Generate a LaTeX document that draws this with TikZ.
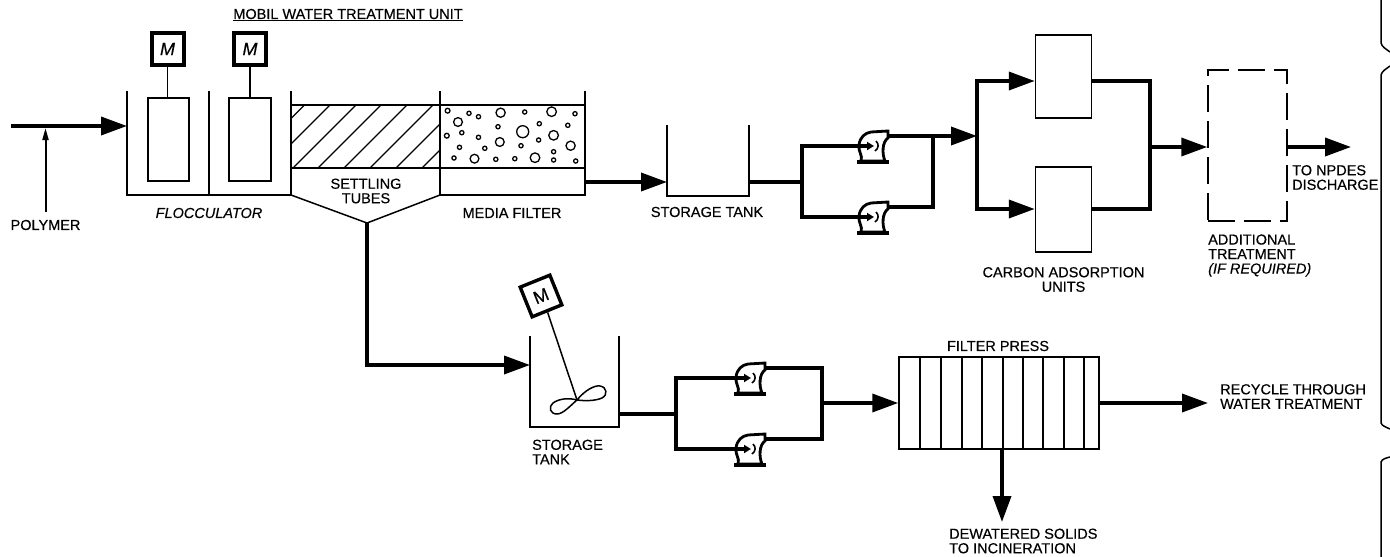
\documentclass[tikz,border=0pt]{standalone}
\usepackage{fontspec}
\setmainfont[FakeBold=0.4]{Liberation Sans}
\usetikzlibrary{arrows.meta,calc}
\tikzset{
  thinline/.style={line width=1.5pt},
  flowline/.style={line width=3.6pt},
  flowarrow/.style={flowline,-{Triangle[length=26pt,width=18pt]}},
  pumptip/.style={flowline,-{Triangle[length=7pt,width=8pt]}},
  tag/.style={inner sep=0pt,font=\fontsize{14.5}{14.5}\selectfont,align=center},
  tagleft/.style={tag,align=left,anchor=west},
  unitbox/.style={draw,thinline,inner sep=0pt,minimum width=#1},
  motorbox/.style={draw,line width=4pt,fill=white,inner sep=0pt,minimum size=32pt,font=\fontsize{18}{18}\selectfont},
  pics/pump/.style={code={
    \draw[line width=2.8pt,fill=white] (-12,15) .. controls (-10,9) and (-15,6) .. (-14,-1)
      .. controls (-13,-9) and (-8,-13) .. (-2,-14) -- (15,-15) -- (15,-8)
      .. controls (9,-4) and (9,8) .. (12,15) -- cycle;
    \draw[line width=3.4pt] (-16,16) -- (16,16);
    \draw[line width=1.6pt] (3,-5) .. controls (6,-2) and (6,2) .. (2,5);
    \coordinate (-in) at (1,0);
    \coordinate (-out) at (15,-10);
  }}
}
\begin{document}
\begin{tikzpicture}[x=1pt,y=-1pt]
  \useasboundingbox (0,0) rectangle (1390,557);
  \node[tag] (title) at (348,15) {\underline{MOBIL WATER TREATMENT UNIT}};

  % flocculator
  \draw[thinline] (127,91) -- (127,195) -- (291,195) -- (291,91);
  \draw[thinline] (209,91) -- (209,195);
  \node[unitbox=41pt,minimum height=83pt] (paddlea) at (168.5,139.5) {};
  \node[unitbox=42pt,minimum height=83pt] (paddleb) at (250,139.5) {};
  \node[motorbox] (motora) at (167.5,49) {\itshape M};
  \node[motorbox] (motorb) at (250,49) {\itshape M};
  \draw[thinline] (motora) -- (motora |- paddlea.north);
  \draw[thinline] (motorb) -- (motorb |- paddleb.north);
  \node[tag] (floclabel) at (209,213) {\itshape FLOCCULATOR};

  % settling tubes
  \begin{scope}
    \clip (291,105) rectangle (440,167);
    \foreach \x in {304.5,330,356,381,407,433,459,485}
      \draw[line width=1.2pt] (\x,105) -- ++(-64,64);
  \end{scope}
  \draw[thinline] (291,105) -- (585,105);
  \draw[line width=2pt] (291,168) -- (585,168);
  \draw[thinline] (440,91) -- (440,195);
  \draw[thinline] (291,195) -- (367,223) -- (440,195);
  \coordinate (conetip) at (367,223);
  \node[tag] (tubelabel) at (366,191) {SETTLING\\TUBES};

  % media filter
  \draw[thinline] (440,195) -- (585,195) -- (585,91);
  \foreach \x/\y/\r in {447.6/110.7/2.4,469/113.3/2.1,478.5/116.7/2.1,500.6/112.7/4.6,524.7/112/2.1,551.6/111.7/4.8,575/113.7/2.1,
    458/122/4.4,498/126.7/2.1,522.7/131.7/6,539.3/123.7/2.1,567.8/125.3/2.1,446.8/135.7/2.4,461.8/132.7/2.1,478.5/137.3/2.1,
    553.6/135.3/4.8,499.8/142/4.4,521/145.7/2.1,538.6/140/2.1,570.6/145.7/4.6,459.5/147.3/2.1,484.8/148.3/2.1,454/158/2.1,
    474.5/158.7/4.4,495.8/159.3/2.1,514.8/158.7/2.1,535/157.7/4.8,553.6/151.7/2.1,553.6/160/2.1,575.7/161/2.1}
    \draw[line width=1.3pt] (\x,\y) circle (\r);
  \node[tag] (medialabel) at (512,213) {MEDIA FILTER};

  % storage tank
  \draw[thinline] (667,125) -- (667,196) -- (749,196) -- (749,125);
  \node[tag] (tanklabel) at (707,212) {STORAGE TANK};

  % carbon units
  \node[unitbox=56pt,minimum height=83pt] (carbona) at (1063.5,76.5) {};
  \node[unitbox=56pt,minimum height=85pt] (carbonb) at (1063.5,209.5) {};
  \node[tag] (carbonlabel) at (1063.5,279.5) {CARBON ADSORPTION\\UNITS};
  \node[unitbox=79pt,minimum height=151pt,dash pattern=on 27pt off 9pt] (extra) at (1247.5,145.5) {};
  \node[tagleft] (extralabel) at (1208,255.5) {ADDITIONAL\\TREATMENT\\\textit{(IF REQUIRED)}};
  \node[tagleft] (npdes) at (1292,177.5) {TO NPDES\\DISCHARGE};

  % pumps
  \pic (pumpa) at (873,146) {pump};
  \pic (pumpb) at (873,217) {pump};
  \pic (pumpc) at (750,378) {pump};
  \pic (pumpd) at (750,449) {pump};

  % first line
  \node[tag] (polymer) at (45.5,225) {POLYMER};
  \coordinate (feed) at (11,126);
  \coordinate (flocin) at (127,126);
  \coordinate (polyend) at (45.5,212);
  \draw[flowarrow] (feed) -- (flocin);
  \draw[line width=2pt,-{Triangle[length=12pt,width=6pt]}] (polyend) -- (45.5,128);
  \coordinate (mediaout) at (585,182);
  \coordinate (tankin) at (667,182);
  \draw[flowarrow] (mediaout) -- (tankin);
  \coordinate (tankout) at (749,182);
  \coordinate (splita) at (802,182);
  \draw[flowline] (tankout) -- (splita);
  \draw[pumptip] (splita) |- (pumpa-in);
  \draw[pumptip] (splita) |- (pumpb-in);
  \coordinate (joina) at (933,136);
  \draw[flowline] (pumpa-out) -- (joina);
  \draw[flowline] (pumpb-out) -| (joina);
  \coordinate (carbonin) at (977,136);
  \draw[flowarrow] (joina) -- (carbonin);
  \draw[flowarrow] (carbonin) |- (carbona.west |- 0,81);
  \draw[flowarrow] (carbonin) |- (carbonb.west |- 0,209);
  \coordinate (carbonout) at (1150,147);
  \draw[flowline] (carbona.east |- 0,81) -| (carbonout);
  \draw[flowline] (carbonb.east |- 0,209) -| (carbonout);
  \draw[flowarrow] (carbonout) -- (extra.west |- carbonout);
  \coordinate (discharge) at (1351,147);
  \draw[flowarrow] (extra.east |- carbonout) -- (discharge);

  % sludge line
  \node[motorbox,line width=3.4pt,rotate=22] (motorc) at (541,296) {M};
  \draw[thinline] (530,336) -- (530,427) -- (619,427) -- (619,336);
  \coordinate (paddlehub) at (577,400);
  \draw[thinline] (motorc.south) -- (paddlehub);
  \draw[thinline] (paddlehub) .. controls (585,390) and (595,385) .. (600,386)
    .. controls (607,387) and (608,395) .. (602,398) .. controls (595,401) and (585,401) .. (paddlehub)
    .. controls (570,406) and (563,414) .. (557,414) .. controls (550,414) and (548,407) .. (553,403)
    .. controls (560,398) and (570,398) .. (paddlehub);
  \node[tagleft] (sludgelabel) at (532,452) {STORAGE\\TANK};
  \coordinate (sludgein) at (530,365);
  \draw[flowarrow] (conetip) |- (sludgein);
  \coordinate (sludgeout) at (619,414);
  \coordinate (splitb) at (676,414);
  \draw[flowline] (sludgeout) -- (splitb);
  \draw[pumptip] (splitb) |- (pumpc-in);
  \draw[pumptip] (splitb) |- (pumpd-in);
  \coordinate (joinb) at (822,403);
  \draw[flowline] (pumpc-out) -| (joinb);
  \draw[flowline] (pumpd-out) -| (joinb);

  % filter press
  \node[unitbox=200pt,minimum height=92pt] (press) at (999,403) {};
  \foreach \x in {920,941,962,982,1003,1023,1043,1064,1084}
    \draw[thinline] (\x,357) -- (\x,449);
  \node[tag] (presslabel) at (998,346) {FILTER PRESS};
  \draw[flowarrow] (joinb) -- (press.west);
  \coordinate (recycle) at (1208,403);
  \draw[flowarrow] (press.east) -- (recycle);
  \node[tagleft] (recyclelabel) at (1220,396.5) {RECYCLE THROUGH\\WATER TREATMENT};
  \coordinate (solids) at (1002,522);
  \draw[flowarrow] (solids |- press.south) -- (solids);
  \node[tagleft] (solidslabel) at (949,541) {DEWATERED SOLIDS\\TO INCINERATION};

  % brace at the right edge
  \draw[thinline] (1381,0) -- (1381,43) .. controls (1382,47) and (1386,49) .. (1390,52);
  \draw[thinline] (1390,66) .. controls (1386,69) and (1382,71) .. (1381,75) -- (1381,423)
    .. controls (1382,426) and (1386,427) .. (1390,429);
  \draw[thinline] (1390,457) .. controls (1386,458) and (1382,459) .. (1381,462) -- (1381,557);
\end{tikzpicture}
\end{document}
